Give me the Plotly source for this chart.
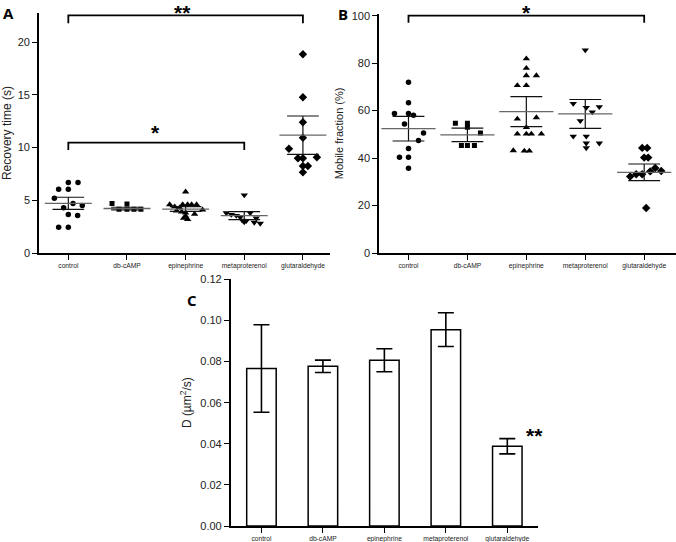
import plotly.graph_objects as go

categories = ["control", "db-cAMP", "epinephrine", "metaproterenol", "glutaraldehyde"]

# ---- Panel A: recovery time (s), individual cells ----
A_control = [6.7, 6.7, 6.05, 6.05, 5.2, 4.7, 4.3, 4.5, 3.65, 3.55, 2.45, 2.45]
A_dbcamp = [4.7, 4.65, 4.15, 4.15, 4.15, 4.15]
A_epi = [5.8, 4.6, 4.6, 4.6, 4.6, 4.6, 4.4, 4.3, 4.1, 4.0, 3.9, 3.8, 3.7, 3.5, 3.3, 3.2]
A_meta = [5.5, 3.8, 3.8, 3.65, 3.55, 3.4, 3.3, 3.1, 3.05, 2.95, 2.9, 2.8]
A_glut = [18.85, 14.77, 12.4, 10.94, 9.9, 8.98, 8.98, 9.08, 8.25, 8.25, 7.65]
A_mean = [4.71, 4.22, 4.17, 3.55, 11.18]
A_sem = [0.58, 0.12, 0.23, 0.38, 1.82]

# ---- Panel B: mobile fraction (%) ----
B_control = [72.0, 63.3, 58.8, 58.8, 58.1, 54.4, 50.6, 47.4, 44.0, 40.4, 40.4, 35.7]
B_dbcamp = [54.7, 54.7, 53.0, 50.6, 45.3, 45.3, 45.3]
B_epi = [81.9, 77.9, 74.8, 74.8, 70.6, 70.6, 57.1, 56.5, 52.9, 50.2, 50.2, 50.2, 50.2, 43.2, 43.0, 43.0]
B_meta = [85.5, 63.0, 61.3, 61.6, 59.4, 55.7, 49.2, 49.2, 46.3, 46.3, 44.3]
B_glut = [44.3, 44.3, 40.2, 40.2, 35.8, 34.6, 34.4, 32.2, 33.2, 33.2, 19.0]
B_mean = [52.4, 49.8, 59.6, 58.6, 34.0]
B_sem = [5.2, 2.85, 6.3, 6.1, 3.5]

# ---- Panel C: diffusion coefficient D (um^2/s) ----
C_mean = [0.0766, 0.0777, 0.0806, 0.0955, 0.0388]
C_err = [0.0213, 0.0030, 0.0056, 0.0082, 0.0037]

# horizontal scatter of the dots (layout only, in pixels)
A_dx = [
    [0, 9.7, -9.7, 0, -14, 4.7, -4.7, 14, 0, 9.3, -9.7, 0],
    [-15, 0, -8, 0, 7, 14],
    [0, -16, -3, 2, 6, 11, -11, -6, 17, -9, -4, 0, 9, 0, -2, 2],
    [0, -18, 6, -13, -8, -4, 12, -2, 2, 0, 10, 16],
    [0, 0, 0, 0, -14, -5, 0, 14, 0, 5, 0],
]
B_dx = [
    [0, 0, -14, 0, 5, -4, 15, 10, 0, -9, 0, 0],
    [-12, 0, 0, 13, -6, 0, 7],
    [0, 0, 0, 10, -9, 0, 10, -9, 0, -9, 0, 5, 15, -13, -2, 3],
    [0, -12, 1, 14, 7, -5, -12, 1, 1, 14, 1],
    [-2, 3, 0, 4, 11, 17, 6, -14, -8, -2, 2],
]
PX_PER_CAT = 58.8
symbols = ["circle", "square", "triangle-up", "triangle-down", "diamond"]
msizes = [5.5, 5, 6.5, 6.5, 6.5]

A_groups = [A_control, A_dbcamp, A_epi, A_meta, A_glut]
B_groups = [B_control, B_dbcamp, B_epi, B_meta, B_glut]

A_range = [0, 22.75]
B_range = [0, 100.8]

FONT = "Liberation Sans, Arial, sans-serif"
fig = go.Figure()


def add_dotplot(groups, dxs, means, sems, xa, ya, mean_hw, sem_hw):
    for i, (vals, dx) in enumerate(zip(groups, dxs)):
        fig.add_trace(go.Scatter(
            x=[i + d / PX_PER_CAT for d in dx], y=vals, mode="markers",
            marker=dict(symbol=symbols[i], size=msizes[i], color="black", line=dict(width=0)),
            xaxis=xa, yaxis=ya, showlegend=False, hoverinfo="y"))
    mx, my, sx, sy = [], [], [], []
    for i, (m, s) in enumerate(zip(means, sems)):
        mx += [i - mean_hw, i + mean_hw, None]
        my += [m, m, None]
        sx += [i - sem_hw, i + sem_hw, None, i - sem_hw, i + sem_hw, None, i, i, None]
        sy += [m + s, m + s, None, m - s, m - s, None, m - s, m + s, None]
    fig.add_trace(go.Scatter(x=sx, y=sy, mode="lines", line=dict(color="#111", width=1.2),
                             xaxis=xa, yaxis=ya, showlegend=False, hoverinfo="skip"))
    fig.add_trace(go.Scatter(x=mx, y=my, mode="lines", line=dict(color="#666", width=1.3),
                             xaxis=xa, yaxis=ya, showlegend=False, hoverinfo="skip"))


add_dotplot(A_groups, A_dx, A_mean, A_sem, "x", "y", 0.40, 0.27)
add_dotplot(B_groups, B_dx, B_mean, B_sem, "x2", "y2", 0.46, 0.27)

fig.add_trace(go.Bar(
    x=list(range(5)), y=C_mean, width=0.48,
    marker=dict(color="white", line=dict(color="black", width=1.5)),
    error_y=dict(type="data", array=C_err, color="black", thickness=1.6, width=8),
    xaxis="x3", yaxis="y3", showlegend=False))

axis_common = dict(showline=True, linecolor="black", linewidth=1.6, ticks="outside",
                   tickcolor="black", tickwidth=1.4, ticklen=5, showgrid=False,
                   zeroline=False, automargin=False)
xcat = dict(tickvals=list(range(5)), ticktext=categories,
            tickfont=dict(family=FONT, size=6.7, color="#222"), **axis_common)
ytick_font = dict(family=FONT, size=11, color="#222")

fig.update_layout(
    width=676, height=542, margin=dict(l=0, r=0, t=0, b=0),
    paper_bgcolor="white", plot_bgcolor="white", showlegend=False,
    xaxis=dict(domain=[0.0577, 0.488], range=[-0.5, 4.46], anchor="y", **xcat),
    yaxis=dict(domain=[0.5332, 0.9756], range=A_range, anchor="x",
               tickvals=[0, 5, 10, 15, 20], tickfont=ytick_font,
               title=dict(text="Recovery time (s)", font=dict(family=FONT, size=12, color="#222"), standoff=6),
               **axis_common),
    xaxis2=dict(domain=[0.5607, 1.0], range=[-0.5, 4.54], anchor="y2", **xcat),
    yaxis2=dict(domain=[0.5332, 0.9745], range=B_range, anchor="x2",
                tickvals=[0, 20, 40, 60, 80, 100], tickfont=ytick_font,
                title=dict(text="Mobile fraction (%)", font=dict(family=FONT, size=11, color="#222"), standoff=6),
                **axis_common),
    xaxis3=dict(domain=[0.3413, 0.7959], range=[-0.5, 4.5], anchor="y3", **xcat),
    yaxis3=dict(domain=[0.0295, 0.4847], range=[0, 0.12], anchor="x3",
                tickvals=[0, 0.02, 0.04, 0.06, 0.08, 0.10, 0.12], tickformat=".2f", tickfont=ytick_font,
                title=dict(text="D (µm<sup>2</sup>/s)", font=dict(family=FONT, size=12, color="#222"), standoff=6),
                **axis_common),
)


# significance brackets
def bracket(x0, x1, ytop, ybot, xa, ya):
    fig.add_shape(type="path", path=f"M {x0} {ybot} L {x0} {ytop} L {x1} {ytop} L {x1} {ybot}",
                  xref=xa, yref=ya, line=dict(color="black", width=1.8))


bracket(0, 4, 22.55, 21.8, "x", "y")
bracket(0, 3, 10.47, 9.77, "x", "y")
bracket(0, 4, 100.0, 97.0, "x2", "y2")

star_font = dict(family=FONT, size=21, color="black")


def star(text, x, yval, xa, ya, rng):
    fig.add_annotation(x=x, y=(yval - rng[0]) / (rng[1] - rng[0]), xref=xa, yref=ya + " domain",
                       text=text, showarrow=False, font=star_font, yanchor="middle")


def top_star(text, x, xa):
    # stars above the top brackets, hung from the top edge of the figure
    fig.add_annotation(x=x, y=1, xref=xa, yref="paper", text=text, showarrow=False,
                       font=star_font, yanchor="top", borderpad=0)


top_star("<b>**</b>", 1.94, "x")
star("<b>*</b>", 1.48, 11.4, "x", "y", A_range)
top_star("<b>*</b>", 2.0, "x2")
star("<b>**</b>", 4.45, 0.0440, "x3", "y3", [0, 0.12])

# panel letters
letter_font = dict(family="Open Sans, DejaVu Sans, sans-serif", size=15, color="black")
for txt, px, py in [("<b>A</b>", 8, 13), ("<b>B</b>", 343, 14), ("<b>C</b>", 192, 300)]:
    fig.add_annotation(x=px / 676, y=1 - py / 542, xref="paper", yref="paper", text=txt,
                       showarrow=False, font=letter_font, xanchor="center", yanchor="middle")

fig.write_html("out.html")
